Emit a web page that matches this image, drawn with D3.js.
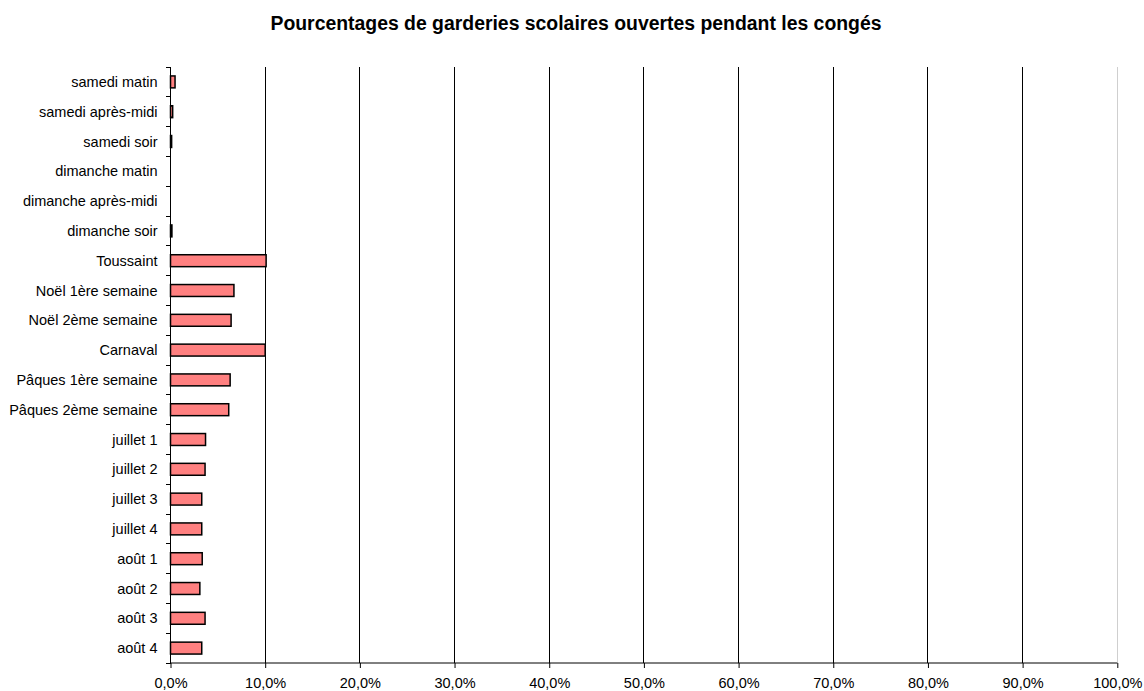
<!DOCTYPE html>
<html>
<head>
<meta charset="utf-8">
<script src="https://cdn.jsdelivr.net/npm/d3@7"></script>
<style>
  html, body { margin: 0; padding: 0; background: #fff; }
  svg { display: block; font-family: Arial, "Liberation Sans", sans-serif; }
</style>
</head>
<body>
<svg id="chart" width="1144" height="691"></svg>
<script>
// Periods (top to bottom) and the share of after-school care open in each
const categories = [
  "samedi matin", "samedi après-midi", "samedi soir",
  "dimanche matin", "dimanche après-midi", "dimanche soir",
  "Toussaint", "Noël 1ère semaine", "Noël 2ème semaine", "Carnaval",
  "Pâques 1ère semaine", "Pâques 2ème semaine",
  "juillet 1", "juillet 2", "juillet 3", "juillet 4",
  "août 1", "août 2", "août 3", "août 4"
];
const values = [
  0.48, 0.23, 0.12,
  0, 0, 0.15,
  10.1, 6.7, 6.4, 10.0,
  6.3, 6.15,
  3.7, 3.65, 3.3, 3.3,
  3.35, 3.1, 3.65, 3.3
];
const xTicks = [0, 10, 20, 30, 40, 50, 60, 70, 80, 90, 100];
const title = "Pourcentages de garderies scolaires ouvertes pendant les congés";

const svg = d3.select("#chart");
const margin = { left: 170.5, right: 1117.3, top: 67, bottom: 663 };

const x = d3.scaleLinear().domain([0, 100]).range([margin.left, margin.right]);
const y = d3.scaleBand().domain(categories).range([margin.top, margin.bottom])
  .paddingInner(0.6).paddingOuter(0.3);
const yEdges = d3.scaleBand().domain(categories).range([margin.top, margin.bottom]);

// Title
svg.append("text")
  .attr("x", 576).attr("y", 30)
  .attr("text-anchor", "middle")
  .attr("font-size", 19.4).attr("font-weight", "bold")
  .text(title);

// Vertical gridlines
svg.append("g").selectAll("line")
  .data(xTicks.filter(d => d > 0))
  .join("line")
  .attr("x1", d => x(d)).attr("x2", d => x(d))
  .attr("y1", margin.top).attr("y2", margin.bottom)
  .attr("stroke", d => d === 100 ? "#cfcfcf" : "#000")
  .attr("stroke-width", 1)
  .attr("shape-rendering", "crispEdges");

// Bars
svg.append("g").selectAll("rect")
  .data(values)
  .join("rect")
  .attr("x", x(0))
  .attr("y", (d, i) => y(categories[i]))
  .attr("width", d => x(d) - x(0))
  .attr("height", y.bandwidth())
  .attr("fill", "#ff8080")
  .attr("stroke", "#000")
  .attr("stroke-width", d => d > 0 ? 1.5 : 0);

// X axis
const xAxis = d3.axisBottom(x)
  .tickValues(xTicks)
  .tickSize(5)
  .tickPadding(10)
  .tickFormat(d => d3.format(".1f")(d).replace(".", ",") + "%");
const gx = svg.append("g")
  .attr("transform", `translate(0,${margin.bottom})`)
  .call(xAxis);
gx.select(".domain").attr("stroke", "#000").attr("d", `M${x(0)},0H${x(100)}`);
gx.selectAll(".tick line").attr("stroke", "#000");
gx.selectAll(".tick text").attr("font-size", 14.5).attr("fill", "#000")
  .attr("font-family", "Arial, 'Liberation Sans', sans-serif").attr("dy", "0.71em");

// Y axis line with tick marks at category boundaries
const gy = svg.append("g");
gy.append("line")
  .attr("x1", x(0)).attr("x2", x(0))
  .attr("y1", margin.top).attr("y2", margin.bottom)
  .attr("stroke", "#000").attr("shape-rendering", "crispEdges");
const edges = categories.map(c => yEdges(c)).concat([margin.bottom]);
gy.selectAll("line.edge")
  .data(edges)
  .join("line")
  .attr("class", "edge")
  .attr("x1", x(0) - 5).attr("x2", x(0))
  .attr("y1", d => d).attr("y2", d => d)
  .attr("stroke", "#000").attr("shape-rendering", "crispEdges");

// Category labels
gy.selectAll("text")
  .data(categories)
  .join("text")
  .attr("x", x(0) - 13)
  .attr("y", d => yEdges(d) + yEdges.bandwidth() / 2)
  .attr("dy", "0.35em")
  .attr("text-anchor", "end")
  .attr("font-size", 14.5)
  .text(d => d);
</script>
</body>
</html>
